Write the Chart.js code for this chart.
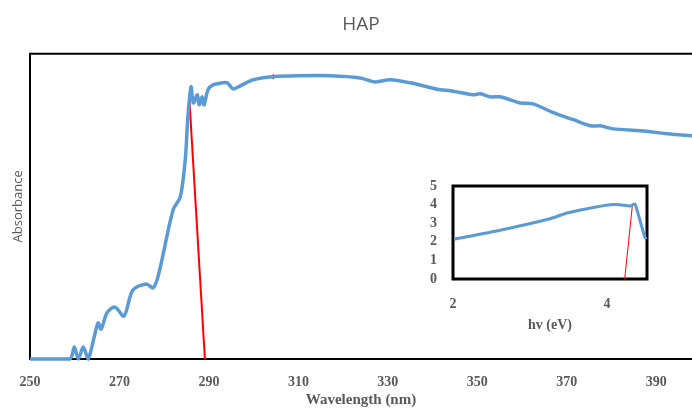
<!DOCTYPE html>
<html>
<head>
<meta charset="utf-8">
<title>HAP</title>
<script src="https://cdn.jsdelivr.net/npm/chart.js@4.4.1/dist/chart.umd.min.js"></script>
<style>
  html, body { margin: 0; padding: 0; background: #fff; }
  #wrap { position: relative; width: 692px; height: 409px; overflow: hidden; }
  #mainChart { position: absolute; left: 0; top: 0; }
  #insetChart { position: absolute; left: 400px; top: 170px; }
</style>
</head>
<body>
<div id="wrap">
  <canvas id="mainChart" width="692" height="409"></canvas>
  <canvas id="insetChart" width="260" height="170"></canvas>
</div>
<script>
// Absorbance spectrum (wavelength in nm, absorbance in relative units)
const wavelength = [250, 258.9, 259.9, 260.8, 261.9, 263.0, 265.2, 265.9, 267.2, 269.0, 271.0, 273.0,
  276.0, 277.5, 278.4, 279.5, 282.0, 283.6, 284.7, 285.3, 286.0, 286.5, 287.4, 287.8, 288.5, 288.9,
  289.8, 290.9, 293.0, 294.1, 295.4, 297.0, 299.9, 304.4, 310.4, 317.1, 323.8, 327.2, 330.5, 335.0,
  341.7, 344.0, 349.1, 350.7, 352.9, 355.1, 359.6, 362.5, 367.0, 371.5, 375.3, 377.5, 380.4, 386.5,
  392.5, 398.1];
const absorbance = [0, 0, 0.039, 0, 0.039, 0, 0.118, 0.098, 0.151, 0.170, 0.141, 0.226,
  0.246, 0.233, 0.259, 0.325, 0.489, 0.531, 0.652, 0.793, 0.892, 0.839, 0.866, 0.833, 0.859, 0.833,
  0.882, 0.898, 0.905, 0.905, 0.885, 0.895, 0.915, 0.925, 0.928, 0.928, 0.921, 0.908, 0.915, 0.905,
  0.882, 0.879, 0.866, 0.869, 0.859, 0.859, 0.839, 0.836, 0.807, 0.784, 0.764, 0.764, 0.754, 0.748,
  0.738, 0.731];

// Tangent at the absorption edge
const edgeX = [285.6, 289.1];
const edgeY = [0.859, 0];
// small red marker on the plateau
const markX = [304.4];
const markY = [0.925];

const wavelengthTicks = [250, 270, 290, 310, 330, 350, 370, 390];

// Inset: Tauc-style plot against photon energy
const energy = [2.02, 2.61, 3.26, 3.48, 3.74, 4.04, 4.17, 4.30, 4.36, 4.41, 4.49, 4.51];
const insetValue = [2.14, 2.62, 3.24, 3.55, 3.78, 3.99, 3.99, 3.92, 4.04, 3.42, 2.27, 2.14];
const insetEdgeX = [4.23, 4.33];
const insetEdgeY = [0, 3.95];
const energyTicks = [2, 4];
const insetYTicks = [0, 1, 2, 3, 4, 5];

const BLUE = "#5b9bd5";
const RED = "#ff0000";
const GREY = "#595959";

const pairs = (xs, ys) => xs.map((x, i) => ({ x: x, y: ys[i] }));

// no extra room for edge labels, the plot box is placed by hand
const noEdgePadding = s => {
  s.paddingLeft = 0;
  s.paddingRight = 0;
  s.paddingTop = 0;
  s.paddingBottom = 0;
};

// draws the black box round the plot area, under the data
const frame = {
  id: "frame",
  beforeDatasetsDraw(chart, args, opts) {
    const { ctx, chartArea: a } = chart;
    ctx.save();
    ctx.strokeStyle = "#000";
    ctx.lineWidth = opts.width;
    ctx.beginPath();
    ctx.moveTo(a.right + (opts.openRight ? 2 : 0), a.top);
    ctx.lineTo(a.left, a.top);
    ctx.lineTo(a.left, a.bottom);
    ctx.lineTo(a.right + (opts.openRight ? 2 : 0), a.bottom);
    if (!opts.openRight) ctx.closePath();
    ctx.stroke();
    ctx.restore();
  }
};

Chart.defaults.animation = false;
Chart.defaults.devicePixelRatio = 1;

new Chart(document.getElementById("mainChart"), {
  type: "line",
  data: {
    datasets: [
      {
        data: pairs(wavelength, absorbance),
        borderColor: BLUE,
        borderWidth: 3.5,
        pointRadius: 0,
        tension: 0.3,
        clip: 6
      },
      {
        data: pairs(edgeX, edgeY),
        borderColor: RED,
        borderWidth: 2,
        pointRadius: 0,
        clip: 4
      },
      {
        data: pairs(markX, markY),
        showLine: false,
        pointStyle: "line",
        rotation: 90,
        pointRadius: 2.5,
        pointBorderColor: RED,
        pointBorderWidth: 1.5
      }
    ]
  },
  options: {
    responsive: false,
    layout: { padding: 0, autoPadding: false },
    plugins: {
      legend: { display: false },
      tooltip: { enabled: false },
      frame: { width: 2, openRight: true },
      title: {
        display: true,
        text: "HAP",
        fullSize: false,
        color: GREY,
        font: { family: "'Open Sans', sans-serif", size: 19, weight: "normal" },
        padding: { top: 13, bottom: 18 }
      }
    },
    scales: {
      x: {
        type: "linear",
        min: 250,
        max: 398,
        afterFit: s => { s.height = 50; noEdgePadding(s); },
        afterBuildTicks: s => { s.ticks = wavelengthTicks.map(v => ({ value: v })); },
        grid: { display: false, drawTicks: false },
        border: { display: false },
        ticks: {
          color: GREY,
          padding: 15,
          maxRotation: 0,
          autoSkip: false,
          font: { family: "'Liberation Serif', serif", size: 14, weight: "bold" }
        },
        title: {
          display: true,
          text: "Wavelength (nm)",
          color: GREY,
          padding: { top: 0, bottom: 0 },
          font: { family: "'Liberation Serif', serif", size: 15, weight: "bold" }
        }
      },
      y: {
        type: "linear",
        min: 0,
        max: 1,
        afterFit: s => { s.width = 30; noEdgePadding(s); },
        grid: { display: false, drawTicks: false },
        border: { display: false },
        ticks: { display: false },
        title: {
          display: true,
          text: "Absorbance",
          color: GREY,
          padding: { top: 10, bottom: 0 },
          font: { family: "'Open Sans', sans-serif", size: 13 }
        }
      }
    }
  },
  plugins: [frame]
});

new Chart(document.getElementById("insetChart"), {
  type: "line",
  data: {
    datasets: [
      {
        data: pairs(energy, insetValue),
        borderColor: BLUE,
        borderWidth: 3,
        pointRadius: 0,
        tension: 0.2,
        clip: 4
      },
      {
        data: pairs(insetEdgeX, insetEdgeY),
        borderColor: RED,
        borderWidth: 1,
        pointRadius: 0,
        clip: 0
      }
    ]
  },
  options: {
    responsive: false,
    layout: { padding: { top: 16, right: 13, left: 0, bottom: 0 }, autoPadding: false },
    plugins: {
      legend: { display: false },
      tooltip: { enabled: false },
      frame: { width: 3, openRight: false }
    },
    scales: {
      x: {
        type: "linear",
        min: 2,
        max: 4.52,
        afterFit: s => { s.height = 61; noEdgePadding(s); },
        afterBuildTicks: s => { s.ticks = energyTicks.map(v => ({ value: v })); },
        grid: { display: false, drawTicks: false },
        border: { display: false },
        ticks: {
          color: GREY,
          padding: 17,
          maxRotation: 0,
          autoSkip: false,
          font: { family: "'Liberation Serif', serif", size: 14, weight: "bold" }
        },
        title: {
          display: true,
          text: "hv (eV)",
          color: GREY,
          padding: { top: 0, bottom: 6 },
          font: { family: "'Liberation Serif', serif", size: 14, weight: "bold" }
        }
      },
      y: {
        type: "linear",
        min: 0,
        max: 5,
        afterFit: s => { s.width = 53; noEdgePadding(s); },
        afterBuildTicks: s => { s.ticks = insetYTicks.map(v => ({ value: v })); },
        grid: { display: false, drawTicks: false },
        border: { display: false },
        ticks: {
          color: GREY,
          padding: 16,
          autoSkip: false,
          font: { family: "'Liberation Serif', serif", size: 14, weight: "bold" }
        }
      }
    }
  },
  plugins: [frame]
});
</script>
</body>
</html>
